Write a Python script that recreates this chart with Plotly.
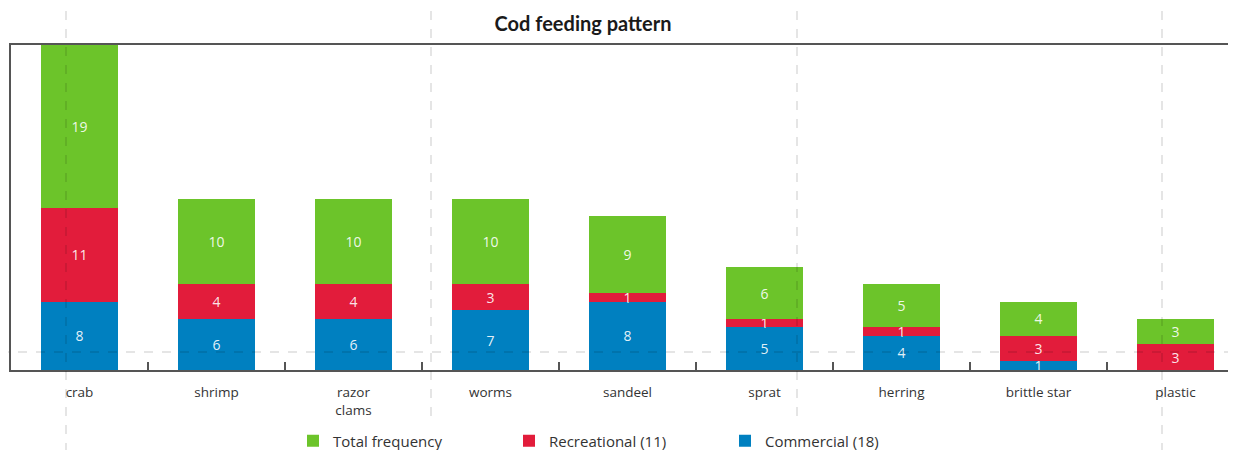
import plotly.graph_objects as go

categories = ["crab", "shrimp", "razor<br>clams", "worms", "sandeel", "sprat", "herring", "brittle star", "plastic"]
commercial = [8, 6, 6, 7, 8, 5, 4, 1, 0]
recreational = [11, 4, 4, 3, 1, 1, 1, 3, 3]
total_freq = [19, 10, 10, 10, 9, 6, 5, 4, 3]

series = [
    ("Commercial (18)", commercial, "#0080c0"),
    ("Recreational (11)", recreational, "#e21c3b"),
    ("Total frequency", total_freq, "#6cc42a"),
]

fig = go.Figure()
for name, vals, color in series:
    fig.add_trace(go.Bar(
        x=categories, y=vals, name=name, marker_color=color, marker_line_width=0,
        text=[str(v) if v else "" for v in vals], textposition="inside",
        insidetextanchor="middle", textangle=0,
        textfont=dict(color="rgba(255,255,255,0.9)", size=14, family="Open Sans"),
        width=0.56,
    ))

# page is offset by the 8px body margin; convert window pixels to paper coords
PL, PT, PW, PH = 11, 45, 1233, 325

def px_x(wx):
    return (wx - PL) / PW

def px_y(wy):
    return (PT + PH - wy) / PH

shapes = []
for wx in [66, 431, 797, 1162]:
    shapes.append(dict(type="line", xref="paper", yref="paper", x0=px_x(wx), x1=px_x(wx),
                       y0=px_y(452), y1=px_y(0), layer="above",
                       line=dict(color="rgba(0,0,0,0.1)", width=2, dash="dash")))
shapes.append(dict(type="line", xref="paper", yref="paper", x0=px_x(0), x1=1,
                   y0=px_y(352), y1=px_y(352), layer="above",
                   line=dict(color="rgba(0,0,0,0.1)", width=2, dash="dash")))

fig.update_layout(
    width=1236, height=450,
    margin=dict(l=3, r=0, t=37, b=88),
    barmode="stack",
    plot_bgcolor="white", paper_bgcolor="white",
    title=dict(text="<b>Cod feeding pattern</b>", x=(583 - 8) / 1236, xanchor="center",
               y=1 - 16 / 450, yanchor="middle",
               font=dict(family="Lato", size=20, color="#1a1a1a")),
    font=dict(family="Open Sans", color="#333333"),
    uniformtext=dict(minsize=14, mode="show"),
    showlegend=True,
    legend=dict(orientation="h", traceorder="reversed", x=px_x(293), xanchor="left",
                y=px_y(441), yanchor="middle",
                entrywidth=171, entrywidthmode="pixels",
                font=dict(size=15, color="#333333", family="Open Sans")),
    shapes=shapes,
    xaxis=dict(range=[-0.5, 8.5], showgrid=False, showline=True, linecolor="#555555",
               linewidth=2, mirror=True, ticks="inside", tickson="boundaries",
               ticklen=8, tickcolor="#555555", tickwidth=1.5, ticklabelstandoff=9,
               tickfont=dict(size=13.5, color="#333333"), fixedrange=True),
    yaxis=dict(range=[0, 38], showgrid=False, showline=True, linecolor="#555555",
               linewidth=2, showticklabels=False, ticks="", zeroline=False),
)

fig.write_html("out.html")
